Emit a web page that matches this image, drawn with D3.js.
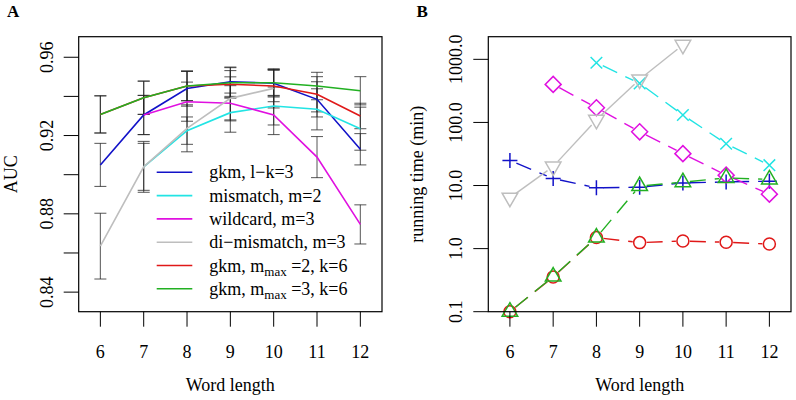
<!DOCTYPE html>
<html lang="en">
<head>
    <meta charset='utf-8'>
    <title>AUC and running time by word length</title>
    <style>
        body{
            margin: 0;
            background: #fff;
        }
        text {
            font-family: "Liberation Serif", "Times New Roman", "DejaVu Serif", serif;
            fill: #000;
            font-size: 18px;
        }
        .panel-label {
            font-weight: bold;
            font-size: 17px;
        }
    </style>
</head>
<body>
<div id="chart"></div>
<script src='https://cdn.jsdelivr.net/npm/d3@7/dist/d3.min.js'></script>
<script>
    var width = 796, height = 400;

    // shared x values
    var wordLength = [6, 7, 8, 9, 10, 11, 12];

    // panel A: AUC (null = not run)
    var aucGkmLk3      = [0.905, 0.9305, 0.944, 0.9475, 0.9467, 0.9385, 0.913];
    var aucGkmLk3Err   = [0.011, 0.010, 0.009, 0.0075, 0.007, 0.009, 0.008];
    var aucMismatch    = [null, 0.904, 0.9225, 0.9317, 0.9351, 0.9334, 0.9235];
    var aucMismatchErr = [null, 0.013, 0.007, 0.010, 0.0097, 0.0105, 0.011];
    var aucWildcard    = [null, 0.9305, 0.9373, 0.9365, 0.9305, 0.909, 0.8746];
    var aucWildcardErr = [null, 0.010, 0.010, 0.009, 0.010, 0.0105, 0.010];
    var aucDiMis       = [0.8635, 0.904, 0.9237, 0.939, 0.9441, null, null];
    var aucDiMisErr    = [0.0168, 0.012, 0.012, 0.011, 0.010, null, null];
    var aucGkmM2       = [0.9308, 0.9393, 0.9453, 0.9462, 0.9453, 0.9411, 0.930];
    var aucGkmM2Err    = [0.0095, 0.0085, 0.0075, 0.007, 0.008, 0.009, 0.0065];
    var aucGkmM3       = [0.9308, 0.9393, 0.9453, 0.947, 0.947, 0.9453, 0.9429];
    var aucGkmM3Err    = [0.0095, 0.0085, 0.0075, 0.0077, 0.0068, 0.007, 0.0072];

    // panel B: running time in minutes
    var timeGkmLk3    = [25, 12.9, 9.2, 9.4, 11, 11.4, 11.7];
    var timeMismatch  = [null, null, 884, 416, 131, 46, 21];
    var timeWildcard  = [null, 401, 171, 71, 32, 14.6, 7.3];
    var timeDiMis     = [6.4, 20, 110, 480, 1700, null, null];
    var timeGkmM2     = [0.1, 0.355, 1.5, 1.245, 1.32, 1.26, 1.18];
    var timeGkmM3     = [0.1, 0.36, 1.5, 9.8, 11.3, 13.2, 12.5];

    var aucTicks = [0.84, 0.86, 0.88, 0.90, 0.92, 0.94, 0.96];
    var aucTickLabels = ["0.84", "", "0.88", "", "0.92", "", "0.96"];
    var timeTicks = [0.1, 1, 10, 100, 1000];
    var timeTickLabels = ["0.1", "1.0", "10.0", "100.0", "1000.0"];

    var series = [
        {name: "gkm, l\u2212k=3",       color: "#1212c8", auc: aucGkmLk3, err: aucGkmLk3Err, time: timeGkmLk3, pch: "plus",  dash: true},
        {name: "mismatch, m=2",         color: "#22e4e4", auc: aucMismatch, err: aucMismatchErr, time: timeMismatch, pch: "cross", dash: true},
        {name: "wildcard, m=3",         color: "#e010e0", auc: aucWildcard, err: aucWildcardErr, time: timeWildcard, pch: "diamond", dash: true},
        {name: "di\u2212mismatch, m=3", color: "#bebebe", auc: aucDiMis, err: aucDiMisErr, time: timeDiMis, pch: "tridown", dash: false},
        {name: "gkm, m", sub: "max", rest: " =2, k=6", color: "#e01818", auc: aucGkmM2, err: aucGkmM2Err, time: timeGkmM2, pch: "circle", dash: true},
        {name: "gkm, m", sub: "max", rest: " =3, k=6", color: "#22b022", auc: aucGkmM3, err: aucGkmM3Err, time: timeGkmM3, pch: "triup", dash: true}
    ];

    var svg = d3.select("#chart").append("svg")
        .attr("width", width).attr("height", height);

    var plotTop = 36.7, plotBottom = 311.7;

    // ---------- panel A ----------
    var xA = d3.scaleLinear().domain([5.5, 12.5]).range([78.7, 382]);
    var yA = d3.scaleLinear().domain([0.83, 0.9705]).range([plotBottom, plotTop]);

    var gA = svg.append("g");

    // error bars
    series.forEach(function(s) {
        var pts = wordLength.map(function(w, i) {
            return {x: w, y: s.auc[i], e: s.err[i]};
        }).filter(function(d) { return d.y != null; });
        var eb = gA.append("g")
            .attr("stroke", "#222")
            .attr("stroke-opacity", 0.7)
            .attr("stroke-width", 1.1);
        eb.selectAll("line.v").data(pts).enter().append("line")
            .attr("x1", function(d) { return xA(d.x); })
            .attr("x2", function(d) { return xA(d.x); })
            .attr("y1", function(d) { return yA(d.y - d.e); })
            .attr("y2", function(d) { return yA(d.y + d.e); });
        [1, -1].forEach(function(sign) {
            eb.selectAll("line.c" + sign).data(pts).enter().append("line")
                .attr("x1", function(d) { return xA(d.x) - 6; })
                .attr("x2", function(d) { return xA(d.x) + 6; })
                .attr("y1", function(d) { return yA(d.y + sign * d.e); })
                .attr("y2", function(d) { return yA(d.y + sign * d.e); });
        });
    });

    var lineA = d3.line()
        .defined(function(d) { return d[1] != null; })
        .x(function(d) { return xA(d[0]); })
        .y(function(d) { return yA(d[1]); });

    series.forEach(function(s) {
        gA.append("path")
            .datum(wordLength.map(function(w, i) { return [w, s.auc[i]]; }))
            .attr("fill", "none")
            .attr("stroke", s.color)
            .attr("stroke-width", 1.6)
            .attr("d", lineA);
    });

    // legend
    var legend = gA.append("g");
    series.forEach(function(s, i) {
        var ly = 172.3 + i * 23.3;
        legend.append("line")
            .attr("x1", 156.7).attr("x2", 192.3)
            .attr("y1", ly).attr("y2", ly)
            .attr("stroke", s.color).attr("stroke-width", 1.6);
        var t = legend.append("text")
            .attr("x", 209.3).attr("y", ly + 6);
        t.append("tspan").text(s.name);
        if (s.sub) {
            t.append("tspan").text(s.sub)
                .attr("dy", 4).style("font-size", "13px");
            t.append("tspan").text(s.rest).attr("dy", -4);
        }
    });

    drawFrame(svg, xA, 78.7, 382, 15);
    // y axis A
    var yAxisA = svg.append("g");
    yAxisA.selectAll("line").data(aucTicks).enter().append("line")
        .attr("x1", 63.7).attr("x2", 78.7)
        .attr("y1", function(d) { return yA(d); })
        .attr("y2", function(d) { return yA(d); })
        .attr("stroke", "#000").attr("stroke-width", 1);
    yAxisA.selectAll("text").data(aucTicks).enter().append("text")
        .attr("transform", function(d) { return "translate(53.3," + yA(d) + ") rotate(-90)"; })
        .attr("text-anchor", "middle")
        .text(function(d, i) { return aucTickLabels[i]; });
    svg.append("text")
        .attr("transform", "translate(17," + (plotTop + plotBottom) / 2 + ") rotate(-90)")
        .attr("text-anchor", "middle")
        .text("AUC");
    svg.append("text").attr("class", "panel-label")
        .attr("x", 7).attr("y", 17).text("A");

    // ---------- panel B ----------
    var xB = d3.scaleLinear().domain([5.5, 12.5]).range([488.3, 791]);
    var yB = d3.scaleLog().domain([0.1, 2285]).range([plotBottom, plotTop]);

    var gB = svg.append("g");
    var gap = 7;

    series.forEach(function(s) {
        var pts = wordLength.map(function(w, i) {
            return {x: w, v: s.time[i]};
        }).filter(function(d) { return d.v != null; })
          .map(function(d) { return {px: xB(d.x), py: yB(d.v)}; });

        // segments between markers, with gaps like type="b"
        for (var i = 0; i < pts.length - 1; i++) {
            var a = pts[i], b = pts[i + 1];
            var dx = b.px - a.px, dy = b.py - a.py;
            var len = Math.sqrt(dx * dx + dy * dy);
            if (len <= 2 * gap) continue;
            var ux = dx / len, uy = dy / len;
            gB.append("line")
                .attr("x1", a.px + ux * gap).attr("y1", a.py + uy * gap)
                .attr("x2", b.px - ux * gap).attr("y2", b.py - uy * gap)
                .attr("stroke", s.color)
                .attr("stroke-width", 1.4)
                .attr("stroke-dasharray", s.dash ? "16,9" : null);
        }

        gB.selectAll(null).data(pts).enter().append("path")
            .attr("transform", function(d) { return "translate(" + d.px + "," + d.py + ")"; })
            .attr("d", markerPath(s.pch))
            .attr("fill", "none")
            .attr("stroke", s.color)
            .attr("stroke-width", 1.5);
    });

    drawFrame(svg, xB, 488.3, 791, 15);
    var yAxisB = svg.append("g");
    yAxisB.selectAll("line").data(timeTicks).enter().append("line")
        .attr("x1", 473.3).attr("x2", 488.3)
        .attr("y1", function(d) { return yB(d); })
        .attr("y2", function(d) { return yB(d); })
        .attr("stroke", "#000").attr("stroke-width", 1);
    yAxisB.selectAll("text").data(timeTicks).enter().append("text")
        .attr("transform", function(d) { return "translate(461.7," + yB(d) + ") rotate(-90)"; })
        .attr("text-anchor", "middle")
        .text(function(d, i) { return timeTickLabels[i]; });
    svg.append("text")
        .attr("transform", "translate(423," + (plotTop + plotBottom) / 2 + ") rotate(-90)")
        .attr("text-anchor", "middle")
        .text("running time (min)");
    svg.append("text").attr("class", "panel-label")
        .attr("x", 416.5).attr("y", 17).text("B");

    function drawFrame(svg, x, left, right, tick) {
        var g = svg.append("g");
        g.append("rect")
            .attr("x", left).attr("y", plotTop)
            .attr("width", right - left).attr("height", plotBottom - plotTop)
            .attr("fill", "none").attr("stroke", "#000").attr("stroke-width", 1.2);
        g.selectAll("line").data(wordLength).enter().append("line")
            .attr("x1", function(d) { return x(d); })
            .attr("x2", function(d) { return x(d); })
            .attr("y1", plotBottom).attr("y2", plotBottom + tick)
            .attr("stroke", "#000").attr("stroke-width", 1);
        g.selectAll("text").data(wordLength).enter().append("text")
            .attr("x", function(d) { return x(d); })
            .attr("y", 358)
            .attr("text-anchor", "middle")
            .text(function(d) { return d; });
        g.append("text")
            .attr("x", (left + right) / 2).attr("y", 391)
            .attr("text-anchor", "middle")
            .text("Word length");
    }

    function markerPath(type) {
        var p = d3.path();
        if (type === "plus") {
            var r = 7.5;
            p.moveTo(-r, 0); p.lineTo(r, 0);
            p.moveTo(0, -r); p.lineTo(0, r);
        } else if (type === "cross") {
            var c = 5.8;
            p.moveTo(-c, -c); p.lineTo(c, c);
            p.moveTo(-c, c); p.lineTo(c, -c);
        } else if (type === "diamond") {
            var dd = 8;
            p.moveTo(0, -dd); p.lineTo(dd, 0); p.lineTo(0, dd); p.lineTo(-dd, 0); p.closePath();
        } else if (type === "circle") {
            p.arc(0, 0, 6, 0, 2 * Math.PI);
        } else if (type === "triup" || type === "tridown") {
            var R = 9, s = type === "triup" ? -1 : 1;
            var hw = R * Math.sqrt(3) / 2;
            p.moveTo(0, s * R); p.lineTo(hw, -s * R / 2); p.lineTo(-hw, -s * R / 2); p.closePath();
        }
        return p.toString();
    }
</script>
</body>
</html>
